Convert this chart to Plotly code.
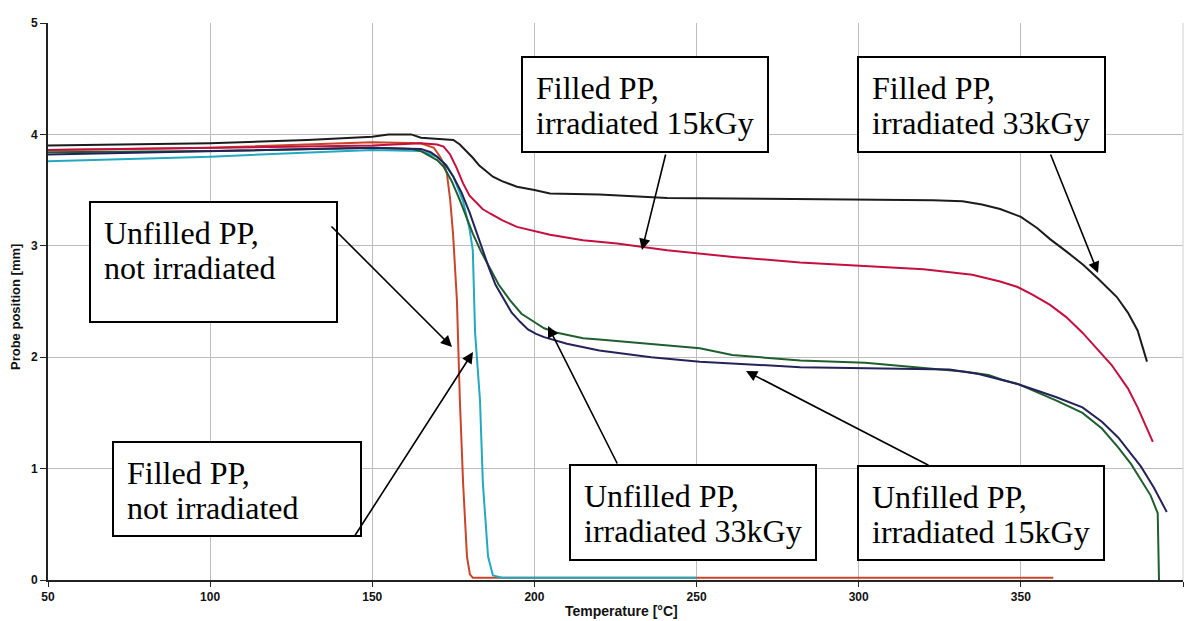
import plotly.graph_objects as go

# ---------------- data ----------------
unf_0_T = [50, 100, 150, 165, 169, 170.9, 172, 173, 174, 174.9, 176.1, 177, 178, 179.2, 180.1, 181, 220, 280, 340, 360]
unf_0_y = [3.86, 3.88, 3.93, 3.92, 3.88, 3.80, 3.74, 3.65, 3.42, 3.11, 2.51, 1.62, 0.87, 0.21, 0.05, 0.02, 0.02, 0.02, 0.02, 0.02]

fil_0_T = [50, 100, 150, 165, 170, 173, 175, 178, 180, 181, 181.7, 183.2, 184.1, 185.7, 187.2, 190, 250]
fil_0_y = [3.76, 3.80, 3.86, 3.85, 3.80, 3.72, 3.62, 3.40, 3.15, 2.96, 2.22, 1.62, 0.87, 0.21, 0.04, 0.02, 0.02]

fil_15_T = [50, 100, 150, 165, 170, 172, 174, 176, 178, 180, 182.3, 184, 186.3, 190, 194.6, 200, 204.8, 215, 225.5,
            240.9, 261.2, 281.9, 302.5, 320, 335, 343.6, 349, 353.7, 359, 364, 369, 374, 378, 383, 386, 390.7]
fil_15_y = [3.86, 3.88, 3.90, 3.92, 3.91, 3.89, 3.82, 3.70, 3.56, 3.45, 3.38, 3.33, 3.29, 3.23, 3.17, 3.13, 3.10, 3.05,
            3.02, 2.96, 2.90, 2.85, 2.82, 2.79, 2.74, 2.68, 2.63, 2.56, 2.47, 2.36, 2.22, 2.06, 1.93, 1.72, 1.55, 1.24]

fil_33_T = [50, 100, 130, 150, 155, 162, 165, 170, 175, 177, 179, 181, 183, 185, 187.2, 190, 194.6, 200, 204.8,
            220, 240.9, 280, 322.9, 332, 338, 343.6, 350, 355, 359, 364, 369.2, 374, 379.6, 383, 386, 388.9]
fil_33_y = [3.90, 3.92, 3.95, 3.98, 4.00, 4.00, 3.97, 3.96, 3.95, 3.91, 3.85, 3.79, 3.72, 3.67, 3.62, 3.58, 3.53,
            3.50, 3.47, 3.46, 3.43, 3.42, 3.41, 3.40, 3.37, 3.33, 3.26, 3.16, 3.06, 2.95, 2.83, 2.70, 2.54, 2.40,
            2.24, 1.96]

unf_33_T = [50, 100, 150, 162, 165, 167, 170, 172, 174.5, 177, 179, 181, 183.5, 186, 189, 192.5, 196, 200.8, 203,
            207, 215, 220, 235.6, 251, 261, 282, 302, 320, 333, 340, 344, 349, 354, 361, 369, 375, 380, 384,
            387, 390, 392.2, 392.6]
unf_33_y = [3.84, 3.85, 3.88, 3.87, 3.85, 3.82, 3.77, 3.71, 3.58, 3.41, 3.26, 3.11, 2.95, 2.81, 2.65, 2.51, 2.39,
            2.30, 2.26, 2.22, 2.17, 2.16, 2.12, 2.08, 2.02, 1.97, 1.95, 1.90, 1.87, 1.84, 1.80, 1.76, 1.70, 1.61,
            1.50, 1.36, 1.19, 1.04, 0.90, 0.76, 0.60, 0.0]

unf_15_T = [50, 100, 150, 165, 168, 170, 172.5, 175, 177.5, 180, 182, 184, 186, 188, 190.5, 193, 195.5, 198, 200.5,
            203, 210, 220, 236, 251, 282, 302, 328, 337, 344, 349, 354, 361, 369, 375, 380, 384, 387, 391, 395]
unf_15_y = [3.82, 3.85, 3.88, 3.87, 3.84, 3.80, 3.73, 3.62, 3.48, 3.30, 3.13, 2.95, 2.80, 2.65, 2.52, 2.40, 2.32,
            2.25, 2.21, 2.18, 2.12, 2.06, 2.00, 1.96, 1.91, 1.90, 1.89, 1.85, 1.80, 1.76, 1.71, 1.64, 1.55, 1.42,
            1.28, 1.13, 1.02, 0.83, 0.61]

x_ticks = [50, 100, 150, 200, 250, 300, 350, 400]
y_ticks = [0, 1, 2, 3, 4, 5]

# ---------------- geometry helpers (pixel -> paper) ----------------
W, H = 1190, 621
ML, MR, MT, MB = 48, 7, 23, 41
PW, PH = W - ML - MR, H - MT - MB


def px(x):
    return (x - ML) / PW


def py(y):
    return (H - MB - y) / PH


fig = go.Figure()

series = [
    (unf_0_T, unf_0_y, "#c8452a"),
    (fil_0_T, fil_0_y, "#22a9bf"),
    (unf_33_T, unf_33_y, "#1f5e2e"),
    (unf_15_T, unf_15_y, "#23235a"),
    (fil_15_T, fil_15_y, "#c4103e"),
    (fil_33_T, fil_33_y, "#1c1c1c"),
]
for xs, ys, c in series:
    fig.add_trace(go.Scatter(x=xs, y=ys, mode="lines", line=dict(color=c, width=2),
                             showlegend=False, hoverinfo="skip"))

tickfont = dict(family="Liberation Sans", size=12, color="#111111", weight="bold")
fig.update_xaxes(range=[50, 400], tickvals=x_ticks, ticktext=[str(v) for v in x_ticks],
                 showgrid=True, gridcolor="#bdbdbd", gridwidth=1,
                 showline=True, linecolor="#222222", linewidth=2, ticks="outside", ticklen=5,
                 tickcolor="#222222", tickfont=tickfont, zeroline=False)
fig.update_yaxes(range=[0, 5], tickvals=y_ticks, ticktext=[str(v) for v in y_ticks],
                 showgrid=True, gridcolor="#bdbdbd", gridwidth=1,
                 showline=True, linecolor="#222222", linewidth=2, ticks="outside", ticklen=6,
                 tickcolor="#222222", tickfont=tickfont, zeroline=False)

# right-hand grid border
fig.add_shape(type="line", xref="paper", yref="paper", x0=1, x1=1, y0=0, y1=1,
              line=dict(color="#cfcfcf", width=1))

# axis titles
fig.add_annotation(text="Temperature [°C]", xref="paper", yref="paper", x=px(621), y=py(611),
                   xanchor="center", yanchor="middle", showarrow=False,
                   font=dict(family="Liberation Sans", size=14, color="#111111", weight="bold"))
fig.add_annotation(text="Probe position [mm]", xref="paper", yref="paper", x=px(15), y=py(307),
                   xanchor="center", yanchor="middle", showarrow=False, textangle=-90,
                   font=dict(family="Liberation Sans", size=13, color="#111111", weight="bold"))

# label boxes: (x0, y0, x1, y1, line1, line2, arrow_tail, arrow_tip)
boxes = [
    (90, 202, 337, 322, "Unfilled PP,", "not irradiated", (330, 225), (452, 347)),
    (113, 442, 361, 536, "Filled PP,", "not irradiated", (354, 537), (473, 352)),
    (522, 57, 768, 152, "Filled PP,", "irradiated 15kGy", (666, 153), (642, 250)),
    (858, 57, 1105, 152, "Filled PP,", "irradiated 33kGy", (1050, 153), (1098, 273)),
    (570, 465, 816, 560, "Unfilled PP,", "irradiated 33kGy", (618, 465), (548, 326)),
    (858, 466, 1104, 560, "Unfilled PP,", "irradiated 15kGy", (930, 466), (746, 371)),
]
tfont = dict(family="Liberation Serif", size=32, color="#000000")
for x0, y0, x1, y1, l1, l2, tail, tip in boxes:
    fig.add_shape(type="rect", xref="paper", yref="paper", x0=px(x0), x1=px(x1), y0=py(y0), y1=py(y1),
                  line=dict(color="#000000", width=2), fillcolor="white", layer="above")
    fig.add_annotation(text=l1, xref="paper", yref="paper", x=px(x0 + 12), y=py(y0 + 31),
                       xanchor="left", yanchor="middle", showarrow=False, font=tfont)
    fig.add_annotation(text=l2, xref="paper", yref="paper", x=px(x0 + 12), y=py(y0 + 66),
                       xanchor="left", yanchor="middle", showarrow=False, font=tfont)
    fig.add_annotation(text="", xref="paper", yref="paper", x=px(tip[0]), y=py(tip[1]),
                       ax=tail[0] - tip[0], ay=tail[1] - tip[1], axref="pixel", ayref="pixel",
                       showarrow=True, arrowhead=2, arrowsize=1.4, arrowwidth=1.6, arrowcolor="#000000",
                       standoff=0, startstandoff=0)

fig.update_layout(width=W, height=H, margin=dict(l=ML, r=MR, t=MT, b=MB),
                  paper_bgcolor="white", plot_bgcolor="white", showlegend=False)

fig.write_html("out.html")
